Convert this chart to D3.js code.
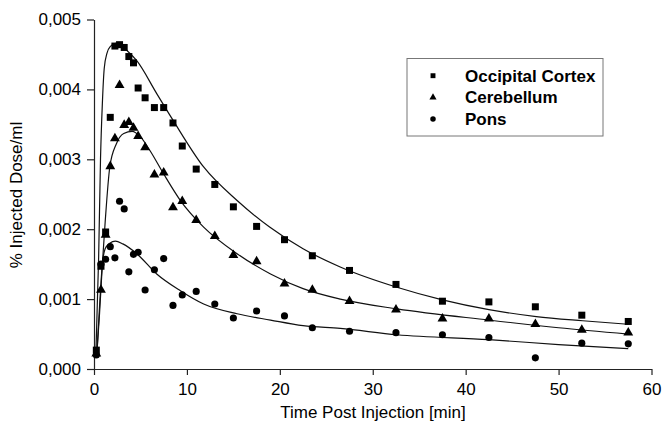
<!DOCTYPE html>
<meta charset='utf-8'>
<style>
    body { margin: 0; background: #fff; }
    text { font-family: 'Liberation Sans', Arial, sans-serif; fill: #000; }
</style>
<body>
<script src='https://d3js.org/d3.v7.min.js'></script>
<script>
var width = 664,
    height = 432;

// frame mid times [min]
var times = [0.25, 0.75, 1.25, 1.75, 2.25, 2.75, 3.25, 3.75, 4.25, 4.75,
             5.5, 6.5, 7.5, 8.5, 9.5, 11, 13, 15, 17.5, 20.5, 23.5,
             27.5, 32.5, 37.5, 42.5, 47.5, 52.5, 57.5];

var occipital = [0.00027, 0.00147, 0.00196, 0.0036, 0.00462, 0.00464, 0.0046, 0.00447, 0.00438, 0.00402,
                 0.00388, 0.00374, 0.00374, 0.00352, 0.00319, 0.00286, 0.00264, 0.00232, 0.00204, 0.00185, 0.00162,
                 0.00141, 0.00121, 0.00097, 0.00096, 0.00089, 0.00077, 0.00068];
var cerebellum = [0.00022, 0.00113, 0.00192, 0.0029, 0.0033, 0.00406, 0.00349, 0.00353, 0.00345, 0.00333,
                  0.00317, 0.00278, 0.00281, 0.00231, 0.0024, 0.00213, 0.0019, 0.00163, 0.00154, 0.00122, 0.00113,
                  0.00097, 0.00085, 0.00072, 0.00072, 0.00064, 0.00056, 0.00052];
var pons = [0.0002, 0.0015, 0.00157, 0.00175, 0.00159, 0.0024, 0.00229, 0.00139, 0.00164, 0.00167,
            0.00113, 0.00142, 0.00158, 0.00091, 0.00106, 0.00111, 0.00093, 0.00073, 0.00083, 0.00076, 0.00059,
            0.00054, 0.00052, 0.00049, 0.00045, 0.00016, 0.00037, 0.00036];

// fitted curves
var fitOccT = [0.2, 0.5, 0.7, 0.9, 1.1, 1.4, 1.8, 2.3, 3, 3.6, 4.6, 6.75, 8.5, 11.8, 15.4, 18.9, 22.5, 26.5, 32.6, 37.5, 42.5, 47.6, 52.6, 57.5];
var fitOcc  = [0.0002, 0.0016, 0.003, 0.0038, 0.0043, 0.00452, 0.00462, 0.00466, 0.00462, 0.00455, 0.00441, 0.00394, 0.00356, 0.00289, 0.00241, 0.00203, 0.00172, 0.00146, 0.00117, 0.00099, 0.00085, 0.00075, 0.00069, 0.00064];
var fitCerT = [0.3, 0.6, 0.9, 1.2, 1.7, 2.4, 3.2, 4.1, 5, 6, 7.5, 9.3, 11.8, 15.4, 19, 22.5, 26.5, 32.6, 42.5, 50, 57.5];
var fitCer  = [0.0002, 0.0008, 0.0015, 0.0021, 0.00289, 0.00322, 0.00337, 0.0034, 0.00332, 0.00313, 0.00279, 0.00241, 0.00203, 0.00165, 0.00136, 0.00115, 0.001, 0.00086, 0.0007, 0.00059, 0.0005];
var fitPonT = [0.3, 0.6, 0.9, 1.2, 1.7, 2.3, 3.1, 4.6, 6.75, 9.3, 11.8, 15.4, 19, 22.5, 26.5, 32.6, 42.5, 50, 57.5];
var fitPon  = [0.0002, 0.0009, 0.0015, 0.00172, 0.0018, 0.00183, 0.00179, 0.00165, 0.00136, 0.00112, 0.00093, 0.00079, 0.0007, 0.00062, 0.00058, 0.00049, 0.00042, 0.00035, 0.00029];

var xTicks = [0, 10, 20, 30, 40, 50, 60];
var yTicks = [0, 0.001, 0.002, 0.003, 0.004, 0.005];
var names = ['Occipital Cortex', 'Cerebellum', 'Pons'];

var svg = d3.select('body').append('svg')
    .attr('width', width)
    .attr('height', height);

var x = d3.scaleLinear().domain([0, 60]).range([94, 651.5]);
var y = d3.scaleLinear().domain([0, 0.005]).range([369, 19.5]);

var fmt = function(d) { return d3.format('.3f')(d).replace('.', ','); };

var gx = svg.append('g')
    .attr('transform', 'translate(0,' + y(0) + ')')
    .call(d3.axisBottom(x).tickValues(xTicks).tickSize(6).tickSizeOuter(0).tickPadding(8));
var gy = svg.append('g')
    .attr('transform', 'translate(' + x(0) + ',0)')
    .call(d3.axisLeft(y).tickValues(yTicks).tickFormat(fmt).tickSize(7).tickSizeOuter(0).tickPadding(6));

[gx, gy].forEach(function(g) {
    g.selectAll('text').style('font-size', '17px').style('font-family', "'Liberation Sans', Arial, sans-serif");
    g.selectAll('path, line').attr('stroke', '#222').attr('stroke-width', 1.2);
});

svg.append('text')
    .attr('x', 373).attr('y', 418)
    .attr('text-anchor', 'middle')
    .style('font-size', '17px')
    .text('Time Post Injection [min]');

svg.append('text')
    .attr('transform', 'translate(22,195) rotate(-90)')
    .attr('text-anchor', 'middle')
    .style('font-size', '17px')
    .text('% Injected Dose/ml');

// fit lines
var line = d3.line()
    .x(function(d) { return x(d[0]); })
    .y(function(d) { return y(d[1]); })
    .curve(d3.curveMonotoneX);

[[fitOccT, fitOcc], [fitCerT, fitCer], [fitPonT, fitPon]].forEach(function(f) {
    svg.append('path')
        .datum(d3.zip(f[0], f[1]))
        .attr('fill', 'none')
        .attr('stroke', '#111')
        .attr('stroke-width', 1.2)
        .attr('d', line);
});

// markers
var shapes = [d3.symbolSquare, d3.symbolTriangle, d3.symbolCircle];
var sizes = [49, 42, 40];
var series = [occipital, cerebellum, pons];

series.forEach(function(vals, i) {
    svg.append('g').selectAll('path')
        .data(d3.zip(times, vals))
        .enter().append('path')
        .attr('transform', function(d) { return 'translate(' + x(d[0]) + ',' + y(d[1]) + ')'; })
        .attr('d', d3.symbol().type(shapes[i]).size(sizes[i]))
        .attr('fill', '#000');
});

// legend
var legend = svg.append('g');
legend.append('rect')
    .attr('x', 407).attr('y', 58.5)
    .attr('width', 196).attr('height', 77.5)
    .attr('fill', '#fff')
    .attr('stroke', '#777')
    .attr('stroke-width', 1);

var legSizes = [24, 22, 24];
names.forEach(function(n, i) {
    var by = 81.7 + i * 21.7;
    legend.append('path')
        .attr('transform', 'translate(433,' + (by - 6) + ')')
        .attr('d', d3.symbol().type(shapes[i]).size(legSizes[i]))
        .attr('fill', '#000');
    legend.append('text')
        .attr('x', 465).attr('y', by)
        .style('font-size', '17px')
        .style('font-weight', 'bold')
        .text(n);
});
</script>
</body>
